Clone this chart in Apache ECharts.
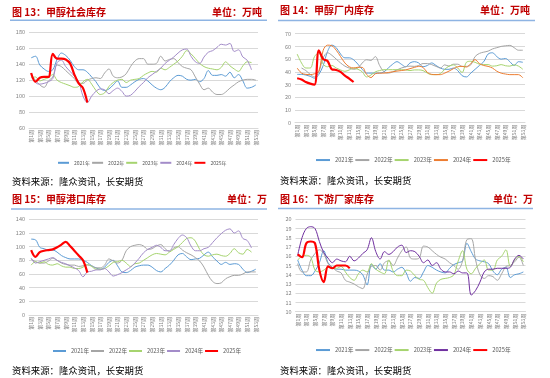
<!DOCTYPE html>
<html>
<head>
<meta charset="utf-8">
<script src="https://cdn.jsdelivr.net/npm/echarts@6/dist/echarts.min.js"></script>
<style>
html,body{margin:0;padding:0;background:#fff;}
#c{width:550px;height:378px;}
</style>
</head>
<body>
<div id="c"></div>
<script>
// ---------- data ----------
const weekLabels = [];
for (let i = 1; i <= 53; i++) weekLabels.push('第' + i + '周');
const yearNames = ['2021年', '2022年', '2023年', '2024年', '2025年'];

// 图13 甲醇社会库存 (万吨)
const social2021 = [148,150,139,134,131,133,146,154,151,145,137,133,133,130,124,118,110,107,109,114,119,111,111,114,118,121,122,119,114,110,108,111,118,123,126,125,121,120,121,118,122,132,126,126,127,125,130,123,127,119,110,111,114];
const social2022 = [127,120,114,111,119,124,139,137,132,127,122,116,116,120,122,123,122,129,134,125,123,124,128,137,144,147,147,140,140,141,150,144,146,147,142,137,135,133,124,115,108,110,105,102,102,105,110,114,118,120,121,121,120];
const social2023 = [123,124,119,121,123,127,120,117,115,113,111,112,118,121,115,107,102,104,112,117,120,121,117,120,121,122,126,129,131,130,135,133,136,140,144,150,157,153,147,141,137,135,134,133,136,143,138,134,131,138,143,142];
const social2024 = [129,117,115,116,118,122,142,145,137,131,125,118,100,92,100,106,109,108,103,107,110,106,100,101,106,112,117,123,127,131,135,141,145,149,154,158,159,150,143,141,149,155,157,161,165,164,166,156,158,149,145,133];
const social2025 = [129,118,123,124,124,153,147,147,146,141,127,116,110,92];

// 图14 甲醇厂内库存 (万吨)
const factory2021 = [38,38,37.5,36.5,35,38,45,56,61,59,54,51,51,49.5,46,42,39,39,39,39,40,43,46,48,46,44,47,48,47,44,45,47,45,43,42,42,43,41,37,36,39,42,45,48,54,55,52,50,50.5,48,45,48,47.5];
const factory2022 = [null,43,41,38,36,40,51,55,53,50,47,44.5,43,42,43,47,49.5,49,52,45,40,39,40,41.5,43,44,44.5,44.3,45,46.5,46.5,45.7,44.3,43,45.5,44.5,46,46,44.3,44.3,45.5,52,54.5,55.5,56.3,58,59,60,60.5,60.8,59,57,57];
const factory2023 = [54,47,43,43,52,55,46,44,45,43,41.5,40.4,41.5,43,42,40,36,37.5,40,41,41.7,41.7,41.7,41.7,41.7,41.5,41,41.5,41.5,41,39,37.8,37.8,38.5,42,44.5,45.5,43,39.5,47.5,48.3,47.5,46,45.7,45.7,44.5,44.8,45.7,44.8,44.5,45.5,44.5,42];
const factory2024 = [43,39,38,37.8,38.5,40.5,57,61,60.5,57,52,47,44,43,43.6,43.5,38,35.5,38.5,39,39,39.5,40,40.6,41,41.5,42.5,43.5,44.3,43.5,39.5,38,37.8,37.8,39,40.6,42.5,44,44.3,43.8,46.5,49.6,46.5,45,44.3,43,40.5,39,38.3,37.8,37.8,37.8,35.3];
const factory2025 = [35,34,32,30.7,30,57,50,48.5,42,41.5,40,37,34.7,32];

// 图15 甲醇港口库存 (万吨)
const port2021 = [111,110,99,97,95,95,92,87,84,82,82,82,80,77,72,69,67,70,77,80,72,63,62,65,70,72,73,73,70,65,63,68,73,80,88,90,85,81,82,83,88,92,85,79,74,77,74,75,74,67,62,64,67];
const port2022 = [82,78,76,76,79,83,80,76,74,73,73,71,72,73,72,69,69,73,82,79,76,80,94,100,102,103,101,96,97,101,103,97,93,98,100,95,91,88,84,79,70,58,49,46,47,53,56,58,58,60,63,63,63];
const port2023 = [73,78,76,78,74,73,75,72,70,70,68,68,70,74,71,67,67,68,72,77,78,80,76,71,75,76,80,84,88,90,89,88,92,96,100,106,112,113,108,96,88,86,88,89,87,86,90,97,91,89,96,92];
const port2024 = [83,76,78,80,82,84,80,77,75,72,69,65,56,63,64,66,66,68,63,57,59,62,66,70,76,83,91,96,99,102,99,94,94,103,112,117,113,101,94,94,97,99,106,113,119,124,126,120,123,112,109,98];
const port2025 = [95,85,92,94,95,96,99,103,107,101,94,87,80,62];

// 图16 下游厂家库存 (万吨)
const down2021 = [15.6,14.5,13.9,13.9,14.4,15.3,16.6,15.3,14.8,14.6,14.6,14.5,14.5,14.5,14.4,14.0,12.9,15.1,14.6,15.2,14.5,14.5,14.3,14.6,14.8,14.2,13.3,13.7,13.6,14.3,15.0,14.8,14.5,14.3,14.2,14.7,15.1,15.3,15.5,17.4,16.5,15.7,15.5,15.4,15.2,14.4,14.0,14.6,14.8,13.7,14.0,14.1,14.3];
const down2022 = [15.2,14.3,14.3,15.6,16.3,16.7,16.3,15.2,14.8,14.4,14.2,13.4,13.2,13.0,12.7,12.5,14.0,14.9,15.0,14.5,15.3,15.5,15.0,15.8,16.6,17.0,15.8,15.7,15.8,17.1,17.0,16.6,16.2,15.9,15.7,15.3,15.0,14.6,15.5,17.8,17.9,15.6,14.0,13.6,13.9,13.8,13.4,14.1,14.9,15.0,15.4,15.9,15.0];
const down2023 = [15.6,16.0,16.1,15.9,14.5,14.3,14.5,14.8,14.7,14.7,14.9,14.3,13.7,13.4,14.1,14.5,14.3,15.2,14.6,14.3,14.1,15.6,14.4,13.9,13.9,14.5,14.4,13.9,13.5,13.4,12.6,12.0,13.1,13.5,13.6,13.7,14.0,15.5,16.6,14.6,14.1,14.7,15.2,15.6,14.5,14.5,15.6,16.0,16.7,14.9,15.6,16.0,15.4];
const down2024 = [16.1,18.0,19.0,19.2,19.0,17.6,16.4,15.8,15.3,15.7,15.5,15.4,16.0,15.5,15.8,16.3,16.7,18.0,16.5,15.7,16.5,16.2,16.5,17.0,17.2,16.4,16.6,16.5,16.0,15.3,15.6,15.0,15.3,14.6,14.3,14.3,14.1,14.4,14.2,14.2,11.8,12.3,13.2,14.3,14.6,14.6,14.7,14.7,14.7,14.8,15.7,16.1,15.7];
const down2025 = [16.2,15.9,17.4,17.6,17.4,14.5,13.2,14.9,14.7,15.0,15.0,15.0,14.7];

// ---------- chart ----------
const FONT = '"Noto Sans CJK SC", "Noto Sans", sans-serif';
const C21 = '#5b9bd5', C22 = '#a5a5a5', C23 = '#a6d46f', CP = '#a38cc9', CO = '#ed7d31', CDP = '#7030a0', CR = '#ff0000';

const panels = [
  { grid: {left: 29, top: 32.3, width: 229, height: 95.7}, min: 60, max: 180, interval: 20,
    data: [social2021, social2022, social2023, social2024, social2025], colors: [C21, C22, C23, CP, CR],
    legend: {left: 52, top: 155, fs: 5, iw: 11} },
  { grid: {left: 295, top: 33.7, width: 230, height: 89}, min: 0, max: 70, interval: 10,
    data: [factory2021, factory2022, factory2023, factory2024, factory2025], colors: [C21, C22, C23, CO, CR],
    legend: {left: 310, top: 152.2, fs: 5.7, iw: 14} },
  { grid: {left: 29, top: 219.3, width: 229, height: 95.7}, min: 0, max: 140, interval: 20,
    data: [port2021, port2022, port2023, port2024, port2025], colors: [C21, C22, C23, CP, CR],
    legend: {left: 47, top: 343.2, fs: 5.6, iw: 13} },
  { grid: {left: 295.5, top: 219.3, width: 230, height: 92.4}, min: 10, max: 20, interval: 1,
    data: [down2021, down2022, down2023, down2024, down2025], colors: [C21, C22, C23, CDP, CR],
    legend: {left: 310, top: 342.2, fs: 5.7, iw: 14} }
];

const grids = [], xAxes = [], yAxes = [], series = [], legends = [];
panels.forEach((p, i) => {
  grids.push(p.grid);
  xAxes.push({
    type: 'category', gridIndex: i, data: weekLabels, boundaryGap: true,
    axisTick: {show: false},
    axisLine: {show: true, lineStyle: {color: '#d9d9d9', width: 1}},
    axisLabel: {interval: 1, rotate: 90, fontSize: 5, color: '#808080', margin: 2, fontFamily: FONT}
  });
  yAxes.push({
    type: 'value', gridIndex: i, min: p.min, max: p.max, interval: p.interval,
    axisLine: {show: false}, axisTick: {show: false},
    axisLabel: {fontSize: 5.5, color: '#808080', margin: 4, fontFamily: FONT},
    splitLine: {lineStyle: {color: '#d9d9d9', width: 1}}
  });
  const names = [];
  p.data.forEach((d, k) => {
    const nm = yearNames[k] + '|' + i;
    names.push(nm);
    series.push({
      name: nm, type: 'line', xAxisIndex: i, yAxisIndex: i, data: d,
      smooth: 0.35, symbol: 'none', connectNulls: false,
      lineStyle: {color: p.colors[k], width: k === 4 ? 2.2 : 1},
      itemStyle: {color: p.colors[k]},
      z: k === 4 ? 5 : 2
    });
  });
  legends.push({
    data: names, left: p.legend.left, top: p.legend.top, orient: 'horizontal',
    itemWidth: p.legend.iw, itemHeight: 7, itemGap: 1,
    itemStyle: {opacity: 0, borderWidth: 0},
    textStyle: {fontSize: p.legend.fs, color: '#595959', fontFamily: FONT},
    formatter: n => n.split('|')[0],
    selectedMode: false
  });
});

const titles = [
  {t: '图 13：甲醇社会库存', x: 12, y: 12.5, u: '单位：万吨', ux: 262},
  {t: '图 14：甲醇厂内库存', x: 280, y: 10.5, u: '单位：万吨', ux: 530},
  {t: '图 15：甲醇港口库存', x: 12, y: 199.5, u: '单位：万', ux: 267},
  {t: '图 16：下游厂家库存', x: 280, y: 199.5, u: '单位：万', ux: 533}
];
const seps = [
  {x1: 10, x2: 267, y: 20.3}, {x1: 278, x2: 535, y: 20.6},
  {x1: 11, x2: 267, y: 209}, {x1: 278, x2: 533, y: 208.6}
];
const sources = [{x: 12, y: 181}, {x: 280, y: 180.5}, {x: 12, y: 370.5}, {x: 280, y: 370.8}];

const graphic = [];
titles.forEach(t => {
  graphic.push({type: 'text', x: t.x, y: t.y, silent: true,
    style: {text: t.t, font: 'bold 10px ' + FONT, fill: '#c00000', verticalAlign: 'middle', align: 'left'}});
  graphic.push({type: 'text', x: t.ux, y: t.y, silent: true,
    style: {text: t.u, font: 'bold 10px ' + FONT, fill: '#c00000', verticalAlign: 'middle', align: 'right'}});
});
seps.forEach(s => {
  graphic.push({type: 'line', silent: true, shape: {x1: s.x1, y1: s.y, x2: s.x2, y2: s.y},
    style: {stroke: '#8eb4e3', lineWidth: 1.5}});
});
sources.forEach(s => {
  graphic.push({type: 'text', x: s.x, y: s.y, silent: true,
    style: {text: '资料来源：隆众资讯，长安期货', font: '9.4px ' + FONT, fill: '#000000', verticalAlign: 'middle', align: 'left'}});
});

const chart = echarts.init(document.getElementById('c'), null, {renderer: 'canvas'});
chart.setOption({
  animation: false,
  backgroundColor: '#ffffff',
  grid: grids, xAxis: xAxes, yAxis: yAxes, series: series, legend: legends,
  graphic: graphic
});
</script>
</body>
</html>
